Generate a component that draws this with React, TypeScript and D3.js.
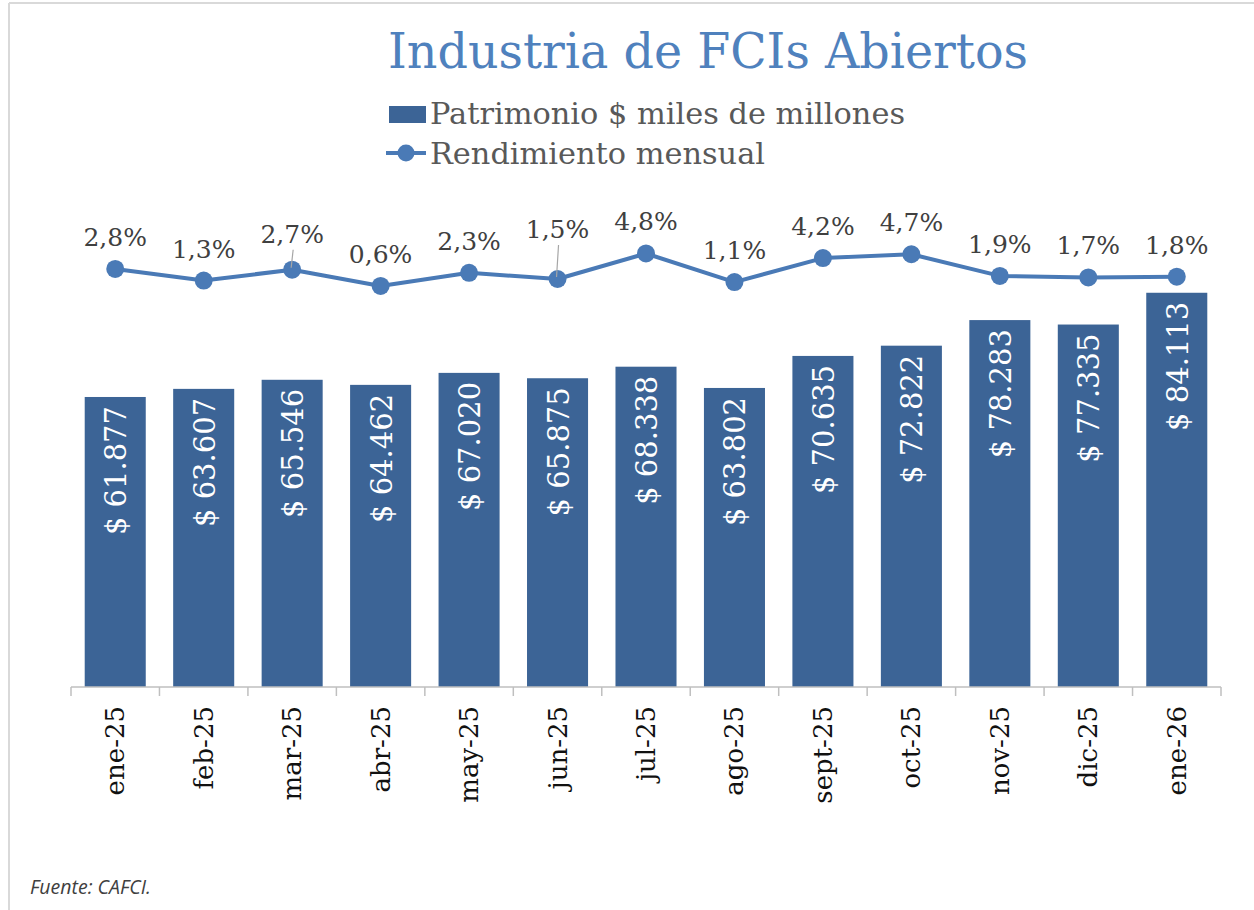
import React from "react";
import * as d3 from "d3";

const categories = ["ene-25","feb-25","mar-25","abr-25","may-25","jun-25","jul-25","ago-25","sept-25","oct-25","nov-25","dic-25","ene-26"];
const patrimonio = [61877,63607,65546,64462,67020,65875,68338,63802,70635,72822,78283,77335,84113];
const rendimiento = [2.8,1.3,2.7,0.6,2.3,1.5,4.8,1.1,4.2,4.7,1.9,1.7,1.8];
const title = "Industria de FCIs Abiertos";
const legendBar = "Patrimonio $ miles de millones";
const legendLine = "Rendimiento mensual";
const source = "Fuente: CAFCI.";

// label nudges (style only): extra upward offset with leader line
const labelNudge: Record<number, number> = { 2: 4, 5: 18 };

const W = 1254, H = 910;
const SERIF = "'DejaVu Serif', serif";
const BAR = "#3C6496";
const LINE = "#4A7AB6";

const locale = d3.formatLocale({ decimal: ",", thousands: ".", grouping: [3], currency: ["$ ", ""] });
const fmtNum = locale.format(",.0f");
const fmtPct = locale.format(".1f");

export default function App() {
  const axisY = 687;
  const x = d3.scaleBand<string>().domain(categories).range([71, 1221]).paddingInner(0.31).paddingOuter(0.155);
  const xb = d3.scaleBand<string>().domain(categories).range([71, 1221]);
  const y = d3.scaleLinear().domain([0, 100000]).range([axisY, 218.3]);
  const y2 = d3.scaleLinear().domain([0, 6]).range([290.6, 244.2]);
  const cx = (c: string) => (x(c) as number) + x.bandwidth() / 2;
  const line = d3.line<number>().x((_, i) => cx(categories[i])).y((v) => y2(v));

  return (
    <svg width={W} height={H} style={{ position: "absolute", left: 0, top: 0, background: "#fff" }}>
      <rect x={0} y={0} width={W} height={H} fill="#fff" />
      <line x1={9} y1={3} x2={W} y2={3} stroke="#d9d9d9" strokeWidth={2} />
      <line x1={9} y1={3} x2={9} y2={H} stroke="#d9d9d9" strokeWidth={2} />

      <text x={388} y={68} fontFamily={SERIF} fontSize={48} fill="#4F81BD" textLength={640} lengthAdjust="spacingAndGlyphs">{title}</text>

      <rect x={389} y={106} width={37} height={17} fill={BAR} />
      <text x={430} y={124} fontFamily={SERIF} fontSize={29} fill="#595959" textLength={475} lengthAdjust="spacingAndGlyphs">{legendBar}</text>
      <line x1={386} y1={153} x2={426} y2={153} stroke={LINE} strokeWidth={4} />
      <circle cx={406} cy={153} r={8.5} fill={LINE} />
      <text x={430} y={164} fontFamily={SERIF} fontSize={29} fill="#595959" textLength={335} lengthAdjust="spacingAndGlyphs">{legendLine}</text>

      {categories.map((c, i) => (
        <rect key={c} x={x(c)} y={y(patrimonio[i])} width={x.bandwidth()} height={axisY - y(patrimonio[i])} fill={BAR} />
      ))}
      {categories.map((c, i) => (
        <text key={c} transform={`translate(${cx(c) + 1},${y(patrimonio[i]) + 9}) rotate(-90)`} textAnchor="end"
          dominantBaseline="central" fontFamily={SERIF} fontSize={29} fill="#fff">{"$ " + fmtNum(patrimonio[i])}</text>
      ))}

      <line x1={71} x2={1221} y1={axisY} y2={axisY} stroke="#BFBFBF" strokeWidth={1.5} />
      {[...categories.map((c) => xb(c) as number), 1221].map((t, i) => (
        <line key={i} x1={t} x2={t} y1={axisY} y2={axisY + 9} stroke="#BFBFBF" strokeWidth={1.5} />
      ))}
      {categories.map((c) => (
        <text key={c} transform={`translate(${cx(c)},${706}) rotate(-90)`} textAnchor="end" dominantBaseline="central"
          fontFamily={SERIF} fontSize={26} fill="#111">{c}</text>
      ))}

      <path d={line(rendimiento) || ""} fill="none" stroke={LINE} strokeWidth={4} strokeLinejoin="round" />
      {rendimiento.map((v, i) => (
        <circle key={i} cx={cx(categories[i])} cy={y2(v)} r={9} fill={LINE} />
      ))}
      {rendimiento.map((v, i) => {
        const nudge = labelNudge[i] || 0;
        const px = cx(categories[i]);
        const py = y2(v);
        const base = py - 23 - nudge;
        return (
          <g key={i}>
            {nudge > 0 && <line x1={px + 1} y1={base + 7} x2={px - 1} y2={py - 2} stroke="#A6A6A6" strokeWidth={1.2} />}
            <text x={px} y={base} textAnchor="middle" fontFamily={SERIF} fontSize={25} fill="#404040">{fmtPct(v) + "%"}</text>
          </g>
        );
      })}

      <text x={30} y={894} fontFamily="'Open Sans', sans-serif" fontStyle="italic" fontSize={19.5} fill="#404040">{source}</text>
    </svg>
  );
}
